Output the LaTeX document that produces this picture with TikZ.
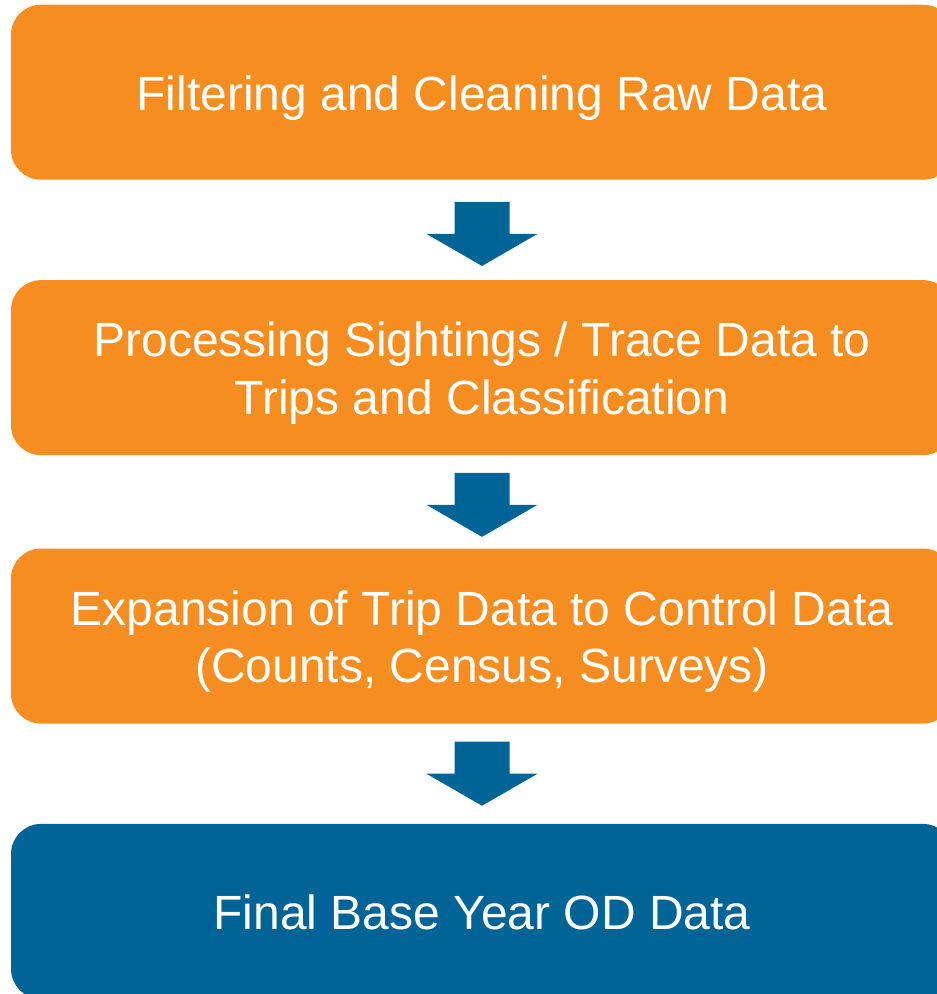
\documentclass[tikz,border=0pt]{standalone}
\usepackage{fontspec}
\setmainfont{Liberation Sans}
\usetikzlibrary{positioning,calc}
\definecolor{stageorange}{HTML}{F68D21}
\definecolor{stageblue}{HTML}{006596}
\begin{document}
\begin{tikzpicture}[x=1pt,y=1pt,
        node distance=100pt,
        every node/.style={rounded corners=30pt,minimum width=942pt,minimum height=175pt,inner sep=0pt,
            text=white,align=center,text height=36pt,text depth=0pt,font=\fontsize{48}{57.5}\selectfont},
        stage/.style={fill=stageorange},
        twoline/.style={text height=93pt},
        result/.style={fill=stageblue}]

    \useasboundingbox (0,0) rectangle (937,994);

    \node[stage] (filter) at (482,901.75) {Filtering and Cleaning Raw Data};
    \node[stage,twoline,below=of filter] (trips) {Processing Sightings / Trace Data to\\Trips and Classification};
    \node[stage,twoline,below=93pt of trips] (expand) {Expansion of Trip Data to Control Data\\(Counts, Census, Surveys)};
    \node[result,below=of expand] (od) {Final Base Year OD Data};

    % block arrows between the boxes
    \foreach \a/\b/\s in {filter/trips/4,trips/expand/3,expand/od/0}
        \fill[stageblue] ($(\a.south)!.5!(\b.north)$) ++(0,-32-\s) -- ++(55.5,32) -- ++(-28,0) -- ++(0,32)
            -- ++(-55,0) -- ++(0,-32) -- ++(-28,0) -- cycle;
\end{tikzpicture}
\end{document}
